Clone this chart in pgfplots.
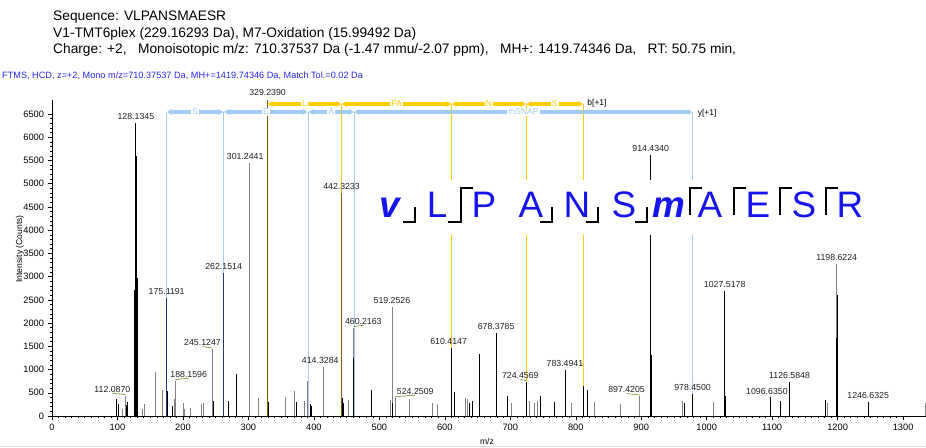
\documentclass[border=0pt]{standalone}
\usepackage{fontspec}
\setmainfont{Liberation Sans}
\usepackage{pgfplots}
\pgfplotsset{compat=1.18}
\usetikzlibrary{arrows.meta}
\definecolor{bgold}{RGB}{255,206,0}
\definecolor{ylite}{RGB}{160,204,245}
\definecolor{bdark}{RGB}{120,95,10}
\definecolor{ydark}{RGB}{32,56,120}
\definecolor{pkgray}{RGB}{128,128,128}
\definecolor{seqblue}{RGB}{20,20,235}
\definecolor{hdrblue}{RGB}{40,40,230}
\definecolor{conncol}{RGB}{100,140,40}

% peak label, optional sideways shift with a small connector
\newcommand{\pk}[3]{\node[lbl] at (axis cs:#1,#2) {#3};}
\newcommand{\pks}[4]{\node[lbl,xshift=#4bp] at (axis cs:#1,#2) {#3};
  \draw[conncol,line width=0.6bp] (axis cs:#1,#2) ++(0,1bp) -- ++(#4bp,1.5bp);}

\begin{document}
\begin{tikzpicture}[x=1bp,y=1bp,
  lbl/.style={anchor=south,inner sep=0pt,yshift=3bp,text=black!88,font=\fontsize{8.8}{10}\selectfont},
  seq/.style={anchor=base,inner sep=0pt,text=seqblue,font=\fontsize{37}{37}\selectfont},
  barlbl/.style={midway,fill=white,inner sep=1.2bp,font=\fontsize{8.5}{9}\selectfont},
  tip/.style={{Latex[length=5bp,width=6.5bp]}-{Latex[length=5bp,width=6.5bp]}}]

% header text
\begin{scope}[every node/.style={anchor=base west,inner sep=0pt,font=\fontsize{13.8}{15}\selectfont}]
\node at (53,427) {Sequence: VLPANSMAESR};
\node at (53,410.5) {V1-TMT6plex (229.16293 Da), M7-Oxidation (15.99492 Da)};
\node at (53,394) {Charge: +2,\ \ \ Monoisotopic m/z: 710.37537 Da (-1.47 mmu/-2.07 ppm),\ \ \ MH+: 1419.74346 Da,\ \ \ RT: 50.75 min,};
\end{scope}
\node[anchor=base west,inner sep=0pt,text=hdrblue,font=\fontsize{9.2}{10}\selectfont] at (2,369.5)
  {FTMS, HCD, z=+2, Mono m/z=710.37537 Da, MH+=1419.74346 Da, Match Tol.=0.02 Da};

\begin{axis}[
  at={(52bp,32bp)}, anchor=south west,
  scale only axis, width=874bp, height=316bp,
  xmin=0, xmax=1335, ymin=0, ymax=6800,
  axis lines*=left,
  axis line style={black,line width=0.6bp},
  tick style={black,line width=0.5bp},
  tick align=outside,
  major tick length=4.5bp, minor tick length=2.5bp,
  xtick={0,100,...,1300}, ytick={0,500,...,6500},
  minor x tick num=9, minor y tick num=4,
  tick label style={font=\fontsize{9.3}{10}\selectfont},
  /pgf/number format/assume math mode=true,
  /pgf/number format/1000 sep={},
  scaled ticks=false,
  clip=false,
]
% fragment lines (from the ion bars down to the baseline)
\addplot[ycomb,mark=none,bgold,line width=1.5bp] coordinates {
  (329.24,6714) (442.32,6714) (610.41,6714) (724.46,6714) (811.49,6714)};
\addplot[ycomb,mark=none,ylite,line width=1bp] coordinates {
  (175.12,6542) (262.15,6542) (391.19,6542) (461.5,6542) (978.43,6542)};

% unassigned peaks, grey
\addplot[ycomb,mark=none,pkgray,line width=0.9bp] coordinates {
  (107,150) (112.09,437) (138,150) (141,256) (158.5,954) (168,552)
  (186.5,366) (188.16,760) (200.5,287) (203,150) (211,172) (229,258)
  (231,280) (245.12,1440) (301.24,5450) (316,380) (357,410) (370,530)
  (386,320) (390.5,750) (414.33,1061) (452.6,344) (460.22,1900)
  (516.5,344) (519.25,2352) (524.25,394) (545.5,366) (581.5,280)
  (589,258) (632,394) (635,370) (702,280) (728.7,322) (736.3,280)
  (741.4,330) (794,280) (829,300) (869,258) (897.42,430) (962.6,322)
  (1011,300) (1184,280) (1198.62,3270) (1334,280)};
% unassigned peaks, black
\addplot[ycomb,mark=none,black,line width=0.9bp] coordinates {
  (99,366) (101,258) (113,237) (115,308) (126.13,2710) (126.6,2700)
  (127.13,2760) (128.13,6300) (129.13,5600) (130.14,2980) (176.5,530)
  (184,215) (246,320) (270,330) (282,900) (329.6,580) (331,308) (373,300)
  (394.5,250) (396,215) (443,387) (445,280) (461,1250) (487.6,560)
  (520,280) (614.7,516) (637,280) (642,330) (652.7,1334) (653.5,300)
  (678.38,1786) (696,430) (746,430) (768,300) (783.49,990) (817.7,560)
  (914.43,5617) (915.1,1310) (915.5,1310) (965.8,270) (978.45,473)
  (1027.52,2690) (1028.5,430) (1096.64,400) (1112,322) (1126.58,730)
  (1181.6,344) (1197.6,1680) (1199.2,2600) (1199.6,2600) (1246.63,308)};
% b ions
\addplot[ycomb,mark=none,bdark,line width=1bp] coordinates {
  (329.24,6800) (442.32,4805)};
\addplot[ycomb,mark=none,black,line width=1bp] coordinates {
  (610.41,1463) (724.46,738) (811.49,645)};
% y ions
\addplot[ycomb,mark=none,ydark,line width=1bp] coordinates {
  (175.12,2540) (262.15,3085)};

% ion series bars
\draw[bgold,line width=3.6bp,tip] (axis cs:329.24,6714) -- (axis cs:442.32,6714) node[barlbl,text=bgold] {L};
\draw[bgold,line width=3.6bp,tip] (axis cs:442.32,6714) -- (axis cs:610.41,6714) node[barlbl,text=bgold] {PA};
\draw[bgold,line width=3.6bp,tip] (axis cs:610.41,6714) -- (axis cs:724.46,6714) node[barlbl,text=bgold] {N};
\draw[bgold,line width=3.6bp,tip] (axis cs:724.46,6714) -- (axis cs:811.49,6714) node[barlbl,text=bgold] {S};
\node[anchor=west,inner sep=0pt,xshift=4bp,font=\fontsize{8.5}{9}\selectfont] at (axis cs:811.49,6730) {b[+1]};
\draw[ylite,line width=3.6bp,tip] (axis cs:175.12,6542) -- (axis cs:262.15,6542) node[barlbl,text=ylite] {S};
\draw[ylite,line width=3.6bp,tip] (axis cs:262.15,6542) -- (axis cs:391.19,6542) node[barlbl,text=ylite] {E};
\draw[ylite,line width=3.6bp,tip] (axis cs:391.19,6542) -- (axis cs:461.5,6542) node[barlbl,text=ylite] {A};
\draw[ylite,line width=3.6bp,tip] (axis cs:461.5,6542) -- (axis cs:978.43,6542) node[barlbl,text=ylite] {mSNAP};
\node[anchor=west,inner sep=0pt,xshift=5bp,font=\fontsize{8.5}{9}\selectfont] at (axis cs:978.43,6520) {y[+1]};

% peak labels
\pks{112.09}{437}{112.0870}{-13}
\pk{128.13}{6300}{128.1345}
\pk{175.12}{2540}{175.1191}
\pks{188.16}{760}{188.1596}{13.5}
\pks{245.12}{1440}{245.1247}{-10}
\pk{262.15}{3085}{262.1514}
\node[lbl,xshift=-4bp] at (axis cs:301.24,5450) {301.2441};
\node[lbl,yshift=1.5bp] at (axis cs:329.24,6800) {329.2390};
\node[lbl,xshift=-3bp] at (axis cs:414.33,1061) {414.3284};
\pk{442.32}{4805}{442.3233}
\pks{460.22}{1900}{460.2163}{10}
\pk{519.25}{2352}{519.2526}
\pks{524.25}{394}{524.2509}{20}
\node[lbl,xshift=-3bp] at (axis cs:610.41,1463) {610.4147};
\pk{678.38}{1786}{678.3785}
\pks{724.46}{738}{724.4569}{-6}
\pk{783.49}{990}{783.4941}
\pks{897.42}{430}{897.4205}{-13}
\pk{914.43}{5617}{914.4340}
\pk{978.45}{473}{978.4500}
\pk{1027.52}{2690}{1027.5178}
\node[lbl,xshift=-3bp] at (axis cs:1096.64,400) {1096.6350};
\pk{1126.58}{730}{1126.5848}
\pk{1198.62}{3270}{1198.6224}
\pk{1246.63}{308}{1246.6325}
\end{axis}

% axis titles
\node[rotate=90,inner sep=0pt,font=\fontsize{8.6}{9}\selectfont] at (20,199) {Intensity (Counts)};
\node[inner sep=0pt,font=\fontsize{8.6}{9}\selectfont] at (487,7) {m/z};

% sequence with fragment marks
\fill[white] (372,213) rectangle (872,268);
\node[seq] at (390,230) {\bfseries\itshape v};
\node[seq] at (437,230) {L};
\node[seq] at (484,230) {P};
\node[seq] at (531,230) {A};
\node[seq] at (577,230) {N};
\node[seq] at (624,230) {S};
\node[seq] at (669,230) {\bfseries\itshape m};
\node[seq] at (710,230) {A};
\node[seq] at (758,230) {E};
\node[seq] at (804,230) {S};
\node[seq] at (850,230) {R};
\begin{scope}[black,line width=2.2bp]
% b ions: bottom right corner
\draw (403,226) -- (415,226) -- (415,241);
\draw (448,226) -- (460.7,226) -- (460.7,260) -- (473,260);
\draw (540,226) -- (552,226) -- (552,241);
\draw (586,226) -- (598,226) -- (598,241);
\draw (635,226) -- (647,226) -- (647,241);
% y ions: top left corner
\draw (690,233) -- (690,260) -- (702,260);
\draw (734,233) -- (734,260) -- (746,260);
\draw (780,233) -- (780,260) -- (792,260);
\draw (826,233) -- (826,260) -- (838,260);
\end{scope}

% faint frame line at the bottom
\draw[black!12,line width=0.8bp] (0,1.5) -- (926,1.5);

\pgfresetboundingbox
\path[use as bounding box] (0,0) rectangle (926,448);
\end{tikzpicture}
\end{document}
